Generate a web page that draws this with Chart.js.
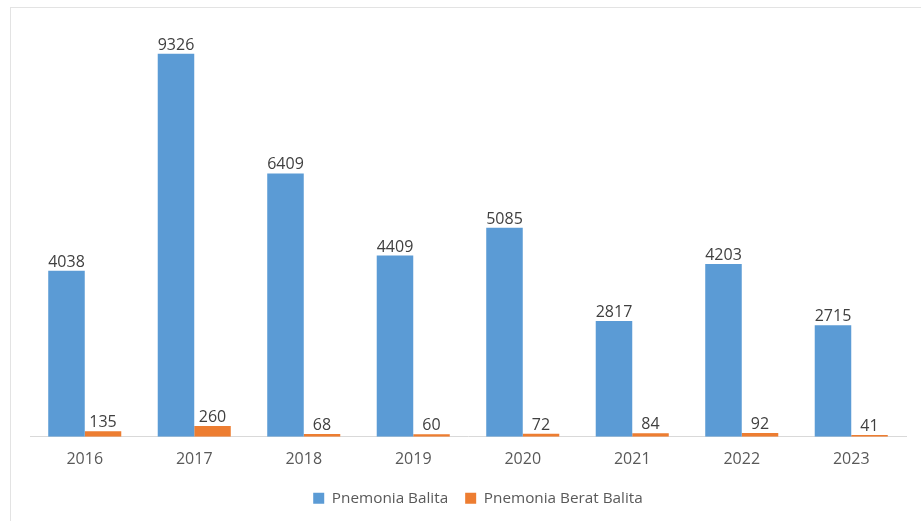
<!DOCTYPE html>
<html>
<head>
<meta charset="utf-8">
<script src="https://cdn.jsdelivr.net/npm/chart.js@4/dist/chart.umd.min.js"></script>
<style>
  html, body { margin: 0; padding: 0; background: #fff; }
  #wrap { position: relative; width: 921px; height: 521px; overflow: hidden; }
  #frame { position: absolute; left: 10px; top: 7px; width: 930px; height: 540px;
           border-top: 1px solid #e3e3e3; border-left: 1px solid #e3e3e3; box-sizing: border-box; }
  canvas { position: absolute; left: 0; top: 0; }
</style>
</head>
<body>
<div id="wrap">
  <div id="frame"></div>
  <canvas id="c" width="921" height="521"></canvas>
</div>
<script>
const years = ['2016', '2017', '2018', '2019', '2020', '2021', '2022', '2023'];
const pnemoniaBalita = [4038, 9326, 6409, 4409, 5085, 2817, 4203, 2715];
const pnemoniaBeratBalita = [135, 260, 68, 60, 72, 84, 92, 41];
const seriesNames = ['Pnemonia Balita', 'Pnemonia Berat Balita'];

const FONT = "'Open Sans', 'Noto Sans', sans-serif";

const valueLabels = {
  id: 'valueLabels',
  afterDatasetsDraw(chart) {
    const ctx = chart.ctx;
    ctx.save();
    ctx.font = '16px ' + FONT;
    ctx.fillStyle = '#404040';
    ctx.textAlign = 'center';
    ctx.textBaseline = 'alphabetic';
    chart.data.datasets.forEach((ds, i) => {
      const meta = chart.getDatasetMeta(i);
      meta.data.forEach((bar, j) => {
        ctx.fillText(String(ds.data[j]), bar.x, bar.y - 4);
      });
    });
    ctx.restore();
  }
};

const legendShift = {
  id: 'legendShift',
  afterLayout(chart) {
    const lg = chart.legend;
    if (lg) { lg.left += 10; lg.right += 10; }
  }
};

new Chart(document.getElementById('c'), {
  type: 'bar',
  data: {
    labels: years,
    datasets: [
      { label: seriesNames[0], data: pnemoniaBalita, backgroundColor: '#5B9BD5',
        categoryPercentage: 0.667, barPercentage: 1.0 },
      { label: seriesNames[1], data: pnemoniaBeratBalita, backgroundColor: '#ED7D31',
        categoryPercentage: 0.667, barPercentage: 1.0 }
    ]
  },
  options: {
    responsive: false,
    animation: false,
    layout: { padding: { left: 30, right: 15, top: 26, bottom: 5 } },
    scales: {
      x: {
        grid: { display: false, drawTicks: false },
        border: { display: true, color: '#D9D9D9', width: 1 },
        ticks: { color: '#595959', font: { family: FONT, size: 16 }, padding: 13 },
        afterFit(scale) { scale.height = 37; }
      },
      y: {
        display: false,
        min: 0, max: 10000
      }
    },
    plugins: {
      legend: {
        position: 'bottom',
        labels: {
          boxWidth: 11, boxHeight: 11,
          color: '#595959',
          font: { family: FONT, size: 15.3 },
          padding: 17
        }
      },
      tooltip: { enabled: false }
    }
  },
  plugins: [valueLabels, legendShift]
});
</script>
</body>
</html>
